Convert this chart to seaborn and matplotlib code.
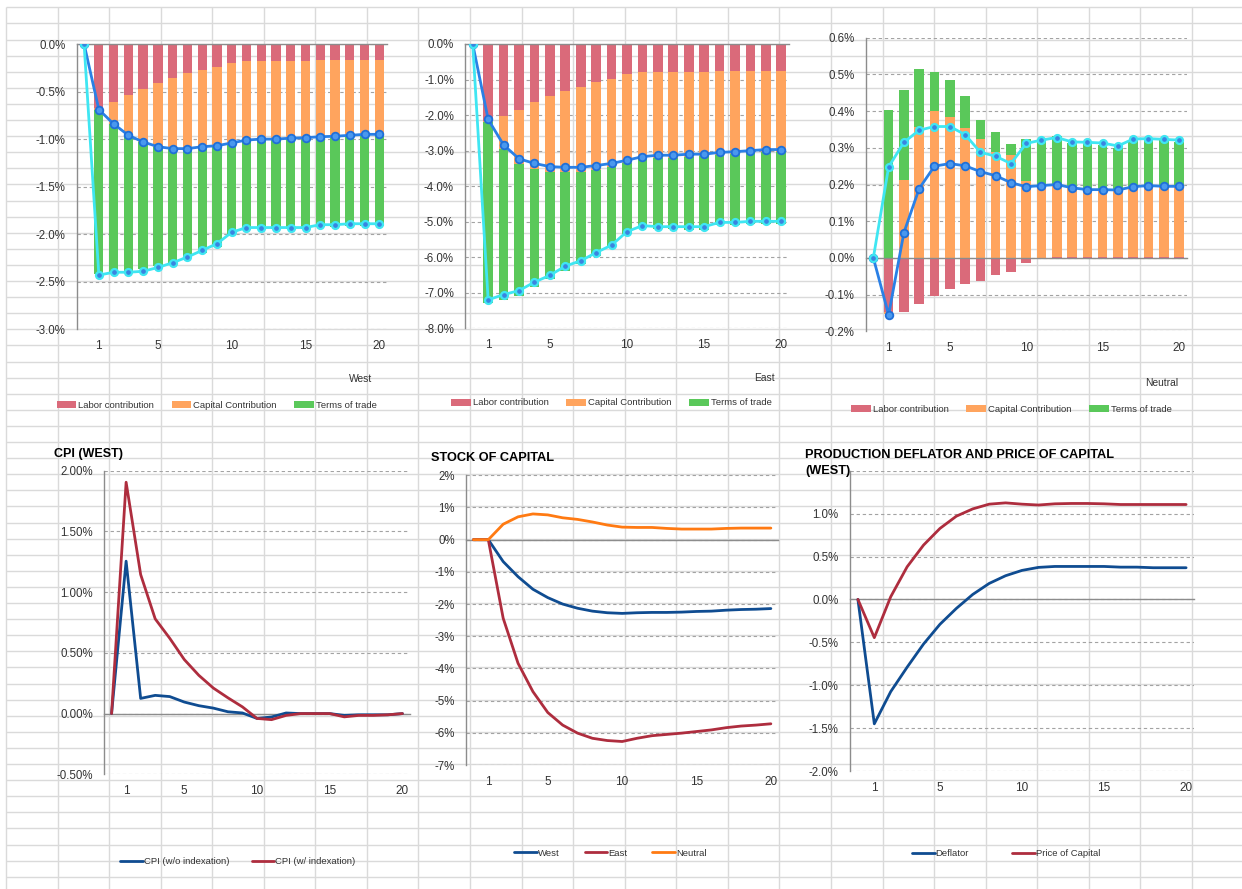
import numpy as np
import matplotlib
matplotlib.use("Agg")
import matplotlib.pyplot as plt
import seaborn as sns
from matplotlib.patches import Patch
from matplotlib.lines import Line2D
from matplotlib.ticker import FuncFormatter, MultipleLocator

W, H = 1242, 889

periods = np.arange(21)
tick_periods = [1, 5, 10, 15, 20]

# ---- GDP decomposition, West (periods 1..20, % deviation) ----
labor_west = [-0.67, -0.61, -0.54, -0.47, -0.41, -0.36, -0.31, -0.27, -0.24, -0.20,
              -0.18, -0.18, -0.18, -0.18, -0.18, -0.17, -0.17, -0.17, -0.17, -0.17]
capital_west = [-0.02, -0.23, -0.42, -0.56, -0.67, -0.74, -0.79, -0.82, -0.83, -0.84,
                -0.84, -0.83, -0.83, -0.82, -0.81, -0.82, -0.81, -0.80, -0.79, -0.79]
tot_west = [-1.73, -1.56, -1.43, -1.34, -1.25, -1.20, -1.15, -1.11, -1.06, -0.97,
            -0.94, -0.94, -0.94, -0.95, -0.96, -0.93, -0.94, -0.94, -0.95, -0.95]
gdp_nominal_west = [0, -0.69, -0.84, -0.96, -1.03, -1.08, -1.10, -1.10, -1.08, -1.07, -1.04,
                    -1.01, -1.00, -1.00, -0.99, -0.985, -0.975, -0.97, -0.96, -0.95, -0.95]
gdp_total_west = [0, -2.43, -2.40, -2.40, -2.39, -2.35, -2.30, -2.24, -2.17, -2.10, -1.98,
                  -1.93, -1.93, -1.93, -1.93, -1.93, -1.90, -1.90, -1.89, -1.89, -1.89]

# ---- GDP decomposition, East ----
labor_east = [-2.17, -2.04, -1.86, -1.63, -1.47, -1.31, -1.20, -1.06, -0.98, -0.85,
              -0.79, -0.79, -0.79, -0.79, -0.79, -0.77, -0.75, -0.75, -0.75, -0.75]
capital_east = [-0.02, -0.92, -1.52, -1.89, -2.12, -2.28, -2.39, -2.49, -2.47, -2.49,
                -2.46, -2.41, -2.41, -2.38, -2.36, -2.35, -2.35, -2.33, -2.30, -2.30]
tot_east = [-5.09, -4.23, -3.71, -3.31, -3.03, -2.79, -2.60, -2.41, -2.27, -2.02,
            -1.92, -2.00, -2.00, -2.05, -2.07, -1.98, -2.00, -1.99, -2.02, -2.02]
gdp_nominal_east = [0, -2.12, -2.84, -3.23, -3.36, -3.45, -3.47, -3.47, -3.42, -3.36, -3.27,
                    -3.17, -3.13, -3.13, -3.10, -3.10, -3.05, -3.03, -3.00, -2.97, -2.97]
gdp_total_east = [0, -7.20, -7.05, -6.94, -6.70, -6.51, -6.25, -6.10, -5.87, -5.66, -5.28,
                  -5.11, -5.14, -5.14, -5.14, -5.14, -5.02, -5.02, -4.99, -4.99, -4.99]

# ---- GDP decomposition, Neutral ----
labor_neutral = [-0.147, -0.147, -0.125, -0.104, -0.085, -0.071, -0.062, -0.047, -0.038, -0.014,
                 0.0, 0.003, 0.003, 0.003, 0.003, 0.002, 0.003, 0.003, 0.003, 0.003]
capital_neutral = [-0.005, 0.212, 0.357, 0.399, 0.384, 0.353, 0.325, 0.289, 0.280, 0.209,
                   0.200, 0.197, 0.187, 0.183, 0.183, 0.181, 0.190, 0.194, 0.192, 0.192]
tot_neutral = [0.403, 0.245, 0.158, 0.108, 0.101, 0.087, 0.051, 0.055, 0.029, 0.115,
               0.125, 0.132, 0.124, 0.123, 0.121, 0.117, 0.126, 0.127, 0.127, 0.121]
gdp_nominal_neutral = [0, -0.155, 0.069, 0.189, 0.250, 0.257, 0.251, 0.235, 0.224, 0.205, 0.194,
                       0.197, 0.200, 0.191, 0.186, 0.186, 0.185, 0.194, 0.197, 0.195, 0.195]
gdp_total_neutral = [0, 0.248, 0.315, 0.348, 0.358, 0.358, 0.336, 0.288, 0.277, 0.257, 0.312,
                     0.321, 0.328, 0.316, 0.315, 0.313, 0.305, 0.324, 0.325, 0.323, 0.321]

# ---- CPI (West) ----
cpi_no_index = [0, 1.255, 0.125, 0.150, 0.140, 0.095, 0.065, 0.045, 0.015, 0.005, -0.040,
                -0.028, 0.005, 0.0, 0.0, 0.0, -0.015, -0.010, -0.010, -0.010, 0.0]
cpi_index = [0, 1.905, 1.145, 0.780, 0.620, 0.445, 0.315, 0.210, 0.130, 0.055, -0.040,
             -0.050, -0.015, 0.0, 0.0, 0.0, -0.027, -0.015, -0.015, -0.010, 0.0]

# ---- Stock of capital ----
stock_west = [0, 0, -0.68, -1.15, -1.54, -1.80, -2.00, -2.13, -2.22, -2.27, -2.29,
              -2.27, -2.26, -2.26, -2.25, -2.23, -2.22, -2.19, -2.17, -2.16, -2.14]
stock_east = [0, 0, -2.44, -3.84, -4.72, -5.37, -5.76, -6.01, -6.17, -6.24, -6.27,
              -6.17, -6.09, -6.05, -6.01, -5.96, -5.91, -5.84, -5.79, -5.76, -5.72]
stock_neutral = [0, 0, 0.48, 0.71, 0.80, 0.77, 0.68, 0.63, 0.55, 0.455, 0.39,
                 0.38, 0.38, 0.35, 0.33, 0.33, 0.33, 0.35, 0.36, 0.36, 0.36]

# ---- Production deflator and price of capital (West) ----
deflator = [0, -1.450, -1.075, -0.790, -0.520, -0.290, -0.105, 0.058, 0.186, 0.276, 0.338,
            0.373, 0.384, 0.384, 0.384, 0.384, 0.376, 0.376, 0.369, 0.369, 0.369]
price_capital = [0, -0.446, 0.031, 0.380, 0.633, 0.827, 0.970, 1.055, 1.110, 1.125, 1.110,
                 1.100, 1.114, 1.118, 1.118, 1.114, 1.106, 1.106, 1.106, 1.106, 1.106]

bar_labels = ["Labor contribution", "Capital Contribution", "Terms of trade"]
bar_colors = ["#da6a7a", "#ffa45e", "#5ac85a"]
c_nominal, c_total = "#2a80e6", "#3fe6f2"
c_blue, c_red, c_orange = "#0f4c91", "#ae2d3e", "#ff7a12"

sns.set_theme(style="white")
plt.rcParams["font.family"] = ["Liberation Sans", "DejaVu Sans"]
TXT = "#333333"
AXC = "#8c8c8c"
LEG_SIZE = 6.8

fig = plt.figure(figsize=(W / 100, H / 100), dpi=100)
fig.patch.set_facecolor("white")

# worksheet cell lines behind the charts
bg = fig.add_axes([0, 0, 1, 1], zorder=-10)
bg.set_xlim(0, W)
bg.set_ylim(H, 0)
bg.axis("off")
col_x = 6 + 51.56 * np.arange(24)
row_y = 7.3 + 16.1 * np.arange(56)
bg.vlines(col_x, 7.3, H, color="#dadada", lw=1.0)
bg.hlines(row_y, 6, W, color="#dadada", lw=1.0)


def box(x0, x1, y0, y1):
    return [x0 / W, 1 - y1 / H, (x1 - x0) / W, (y1 - y0) / H]


def pct(dec, hide_above=None):
    def fmt(v, p):
        if hide_above is not None and v > hide_above:
            return ""
        return f"{round(v, dec) + 0:.{dec}f}%"
    return FuncFormatter(fmt)


def setup(ax, ylim, step, dec, hide_above=None):
    ax.set_facecolor("none")
    ax.set_xlim(-0.5, 20.5)
    ax.set_ylim(*ylim)
    ax.yaxis.set_major_locator(MultipleLocator(step))
    ax.yaxis.set_major_formatter(pct(dec, hide_above))
    ax.tick_params(axis="y", length=0, pad=8, labelsize=8.3, labelcolor=TXT)
    ax.yaxis.grid(True, linestyle=(0, (3, 2.5)), color="#a3a3a3", lw=0.8)
    ax.xaxis.grid(False)
    ax.set_axisbelow(True)
    for s in ("top", "right"):
        ax.spines[s].set_visible(False)
    ax.spines["left"].set_color(AXC)
    ax.spines["left"].set_linewidth(1.0)
    ax.spines["bottom"].set_position(("data", 0))
    ax.spines["bottom"].set_color(AXC)
    ax.spines["bottom"].set_linewidth(1.0)
    ax.set_xticks(np.arange(-0.5, 21, 1))
    ax.set_xticklabels([])
    ax.tick_params(axis="x", direction="inout", length=5, width=0.8, color=AXC)
    sec = ax.secondary_xaxis("bottom")
    sec.set_xticks(tick_periods)
    sec.tick_params(length=0, pad=8, labelsize=8.5, labelcolor=TXT)
    sec.spines["bottom"].set_visible(False)
    return ax


def stacked(ax, parts):
    x = periods[1:]
    pos = np.zeros(len(x))
    neg = np.zeros(len(x))
    for vals, c in zip(parts, bar_colors):
        vals = np.asarray(vals, dtype=float)
        bottom = np.where(vals >= 0, pos, neg)
        ax.bar(x, vals, bottom=bottom, width=0.63, color=c, linewidth=0, zorder=2)
        pos = pos + np.clip(vals, 0, None)
        neg = neg + np.clip(vals, None, 0)


def gdp_lines(ax, nominal, total):
    sns.lineplot(x=periods, y=nominal, ax=ax, color=c_nominal, linewidth=2.0,
                 marker="o", markersize=5.5, markerfacecolor="#4a98ee",
                 markeredgecolor="#1f6fd8", markeredgewidth=1.3, zorder=4, legend=False)
    sns.lineplot(x=periods, y=total, ax=ax, color=c_total, linewidth=2.0,
                 marker="o", markersize=5, markerfacecolor="#3a84e0",
                 markeredgecolor=c_total, markeredgewidth=1.6, zorder=5, legend=False)


def add_legend(handles, labels, cx, cy, colsp, hl, htp):
    leg = fig.legend(handles, labels, loc="center", bbox_to_anchor=(cx / W, 1 - cy / H),
                     ncol=len(handles), frameon=False, handlelength=hl, handleheight=0.77,
                     handletextpad=htp, columnspacing=colsp, borderpad=0, borderaxespad=0,
                     prop={"size": LEG_SIZE})
    for t in leg.get_texts():
        t.set_color(TXT)


bar_handles = [Patch(facecolor=c, edgecolor="none") for c in bar_colors]

# ---- top row: decompositions ----
panels = [
    (box(76.7, 386.7, 44, 329.3), (-3.0, 0.0), 0.5, 1,
     [labor_west, capital_west, tot_west], gdp_nominal_west, gdp_total_west,
     "West", (361, 379), (216.7, 405)),
    (box(465, 789, 44, 328.3), (-8.0, 0.0), 1.0, 1,
     [labor_east, capital_east, tot_east], gdp_nominal_east, gdp_total_east,
     "East", (764, 378), (611.3, 403)),
    (box(865.7, 1186.7, 37.7, 331.3), (-0.2, 0.6), 0.1, 1,
     [labor_neutral, capital_neutral, tot_neutral], gdp_nominal_neutral, gdp_total_neutral,
     "Neutral", (1162, 383), (1011.3, 409)),
]
for rect, ylim, step, dec, parts, nom, tot, name, npos, lpos in panels:
    ax = setup(fig.add_axes(rect), ylim, step, dec)
    stacked(ax, parts)
    gdp_lines(ax, nom, tot)
    fig.text(npos[0] / W, 1 - npos[1] / H, name, ha="center", va="center",
             fontsize=7.4, color=TXT)
    add_legend(bar_handles, bar_labels, lpos[0], lpos[1], 1.85, 2.1, 0.2)


def line_handle(c):
    return Line2D([], [], color=c, lw=2.0)


# ---- CPI (West) ----
ax = setup(fig.add_axes(box(104.3, 409.7, 470.7, 774.3)), (-0.5, 2.0), 0.5, 2)
sns.lineplot(x=periods, y=cpi_no_index, ax=ax, color=c_blue, linewidth=2.0, zorder=3)
sns.lineplot(x=periods, y=cpi_index, ax=ax, color=c_red, linewidth=2.0, zorder=4)
fig.text(54 / W, 1 - 454 / H, "CPI (WEST)", ha="left", va="center",
         fontsize=9.0, fontweight="bold", color="black")
add_legend([line_handle(c_blue), line_handle(c_red)],
           ["CPI (w/o indexation)", "CPI (w/ indexation)"], 237.8, 861.7, 2.4, 2.4, 0.1)

# ---- Stock of capital ----
ax = setup(fig.add_axes(box(466, 778.3, 475.3, 765)), (-7, 2), 1, 0)
sns.lineplot(x=periods, y=stock_west, ax=ax, color=c_blue, linewidth=2.0, zorder=3)
sns.lineplot(x=periods, y=stock_east, ax=ax, color=c_red, linewidth=2.0, zorder=4)
sns.lineplot(x=periods, y=stock_neutral, ax=ax, color=c_orange, linewidth=2.0, zorder=5)
fig.text(430.7 / W, 1 - 458 / H, "STOCK OF CAPITAL", ha="left", va="center",
         fontsize=9.2, fontweight="bold", color="black")
add_legend([line_handle(c_blue), line_handle(c_red), line_handle(c_orange)],
           ["West", "East", "Neutral"], 610.3, 853, 2.65, 2.4, 0.1)

# ---- Production deflator and price of capital ----
# the top gridline label sits under the two-line title, so it is left blank
ax = setup(fig.add_axes(box(849.7, 1194.3, 470.7, 771)), (-2.0, 1.5), 0.5, 1, hide_above=1.25)
sns.lineplot(x=periods, y=deflator, ax=ax, color=c_blue, linewidth=2.0, zorder=3)
sns.lineplot(x=periods, y=price_capital, ax=ax, color=c_red, linewidth=2.0, zorder=4)
fig.text(805 / W, 1 - 455 / H, "PRODUCTION DEFLATOR AND PRICE OF CAPITAL", ha="left",
         va="center", fontsize=9.2, fontweight="bold", color="black")
fig.text(805 / W, 1 - 470.7 / H, "(WEST)", ha="left", va="center",
         fontsize=9.2, fontweight="bold", color="black")
add_legend([line_handle(c_blue), line_handle(c_red)],
           ["Deflator", "Price of Capital"], 1006, 854, 4.55, 2.4, 0.1)

fig.savefig("out.png", dpi=100, facecolor="white")
